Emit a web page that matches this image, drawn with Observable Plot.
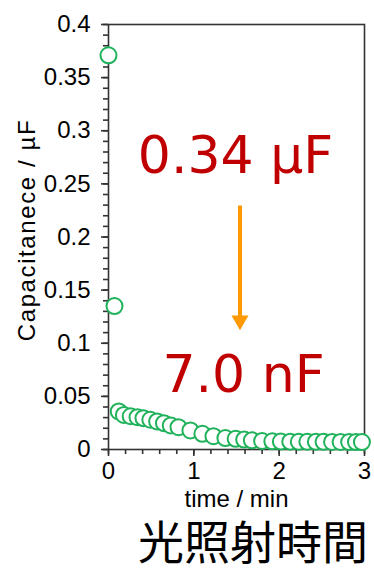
<!DOCTYPE html>
<html>
<head>
<meta charset="utf-8">
<script src="https://cdn.jsdelivr.net/npm/d3@7"></script>
<script src="https://cdn.jsdelivr.net/npm/@observablehq/plot@0.6"></script>
<style>
  html, body { margin: 0; padding: 0; background: #fff; }
  #chart { width: 374px; }
  #caption {
    width: 374px;
    height: 55px;
    box-sizing: border-box;
    padding-top: 3px;
    padding-right: 6px;
    text-align: right;
    font-family: "Liberation Sans", "Noto Sans CJK JP", "Noto Sans CJK SC", sans-serif;
    font-size: 46px;
    line-height: 51px;
    color: #000;
  }
</style>
</head>
<body>
<div id="chart"></div>
<div id="caption">光照射時間</div>
<script>
// Measured capacitance during illumination
const timeMin = [0, 0.07, 0.12, 0.18, 0.26, 0.34, 0.41, 0.49, 0.57, 0.65, 0.73, 0.82, 0.96, 1.10, 1.23, 1.37, 1.49, 1.59, 1.68, 1.80, 1.92, 2.02, 2.13, 2.23, 2.33, 2.43, 2.52, 2.62, 2.72, 2.82, 2.90, 2.97];
const capacitanceUF = [0.371, 0.135, 0.0358, 0.0325, 0.0313, 0.0304, 0.0295, 0.0280, 0.0264, 0.0248, 0.0226, 0.0210, 0.0179, 0.0148, 0.0125, 0.0108, 0.0101, 0.0093, 0.0086, 0.0080, 0.0077, 0.0075, 0.0074, 0.0073, 0.0073, 0.0072, 0.0072, 0.0071, 0.0071, 0.0070, 0.0070, 0.0070];

// Axis ticks
const xTicks = [0, 1, 2, 3];
const xMinorTicks = d3.range(0, 3.0001, 0.2).map(v => +v.toFixed(1));
const yTicks = [0, 0.05, 0.1, 0.15, 0.2, 0.25, 0.3, 0.35, 0.4];
const yMinorTicks = d3.range(0, 0.4001, 0.01).map(v => +v.toFixed(2));

// Before / after annotation
const noteLabels = ["0.34 µF", "7.0 nF"];
const noteX = [1.488, 1.582];
const noteY = [0.2598, 0.0539];
const arrowX = [1.541];
const arrowFrom = [0.2296];
const arrowTo = [0.1252];
const arrowHeadY = [0.1214];

const points = timeMin.map((t, i) => ({t, c: capacitanceUF[i]}));
const notes = noteLabels.map((label, i) => ({label, x: noteX[i], y: noteY[i]}));
const arrows = arrowX.map((x, i) => ({x, y1: arrowFrom[i], y2: arrowTo[i], yh: arrowHeadY[i]}));

const font = '"Liberation Sans", Arial, Helvetica, sans-serif';
const axisColor = "#333";
const yTitle = "Capacitanece / µF";

const chart = Plot.plot({
  width: 374,
  height: 515,
  marginLeft: 108,
  marginRight: 10,
  marginTop: 24,
  marginBottom: 66,
  style: {fontFamily: font, fontSize: "24px", color: "#000", background: "#fff", overflow: "visible"},
  x: {domain: [0, 3]},
  y: {domain: [0, 0.4]},
  marks: [
    Plot.frame({stroke: axisColor, strokeWidth: 1.6}),
    Plot.axisY({ticks: yMinorTicks, tickSize: 5, text: null, label: null, stroke: axisColor, strokeWidth: 1.6}),
    Plot.axisY({ticks: yTicks, tickSize: 7, tickPadding: 11, label: null, stroke: axisColor, strokeWidth: 1.6,
      tickFormat: d => String(+d.toFixed(2)), fill: "#000", fontSize: 24}),
    Plot.axisX({ticks: xMinorTicks, tickSize: 5, text: null, label: null, stroke: axisColor, strokeWidth: 1.6}),
    Plot.axisX({ticks: xTicks, tickSize: 7, tickPadding: 5, label: null, stroke: axisColor, strokeWidth: 1.6,
      tickFormat: d => String(d), fill: "#000", fontSize: 24}),
    Plot.text(["time / min"], {frameAnchor: "bottom", dy: 50, fontSize: 24, fill: "#000", lineAnchor: "middle"}),
    Plot.text([yTitle], {frameAnchor: "left", dx: -81, dy: -7, rotate: -90, fontSize: 24, fill: "#000",
      textAnchor: "middle", lineAnchor: "middle"}),
    Plot.text(notes, {x: "x", y: "y", text: "label", fontFamily: '"DejaVu Sans", Verdana, sans-serif',
      fontSize: 52, fill: "#c00000", textAnchor: "middle", lineAnchor: "bottom"}),
    Plot.link(arrows, {x1: "x", x2: "x", y1: "y1", y2: "y2", stroke: "#ff9900", strokeWidth: 4}),
    Plot.dot(arrows, {x: "x", y: "yh", symbol: "triangle", r: 6.3, rotate: 180, fill: "#ff9900", stroke: "none"}),
    Plot.dot(points, {x: "t", y: "c", r: 8, stroke: "#1fb25a", strokeWidth: 2, fill: "#fff"})
  ]
});

// Slightly wider tracking for the vertical axis title
d3.select(chart).selectAll("text")
  .filter(function() { return this.textContent === yTitle; })
  .style("letter-spacing", "1.6px");

document.getElementById("chart").appendChild(chart);
</script>
</body>
</html>
